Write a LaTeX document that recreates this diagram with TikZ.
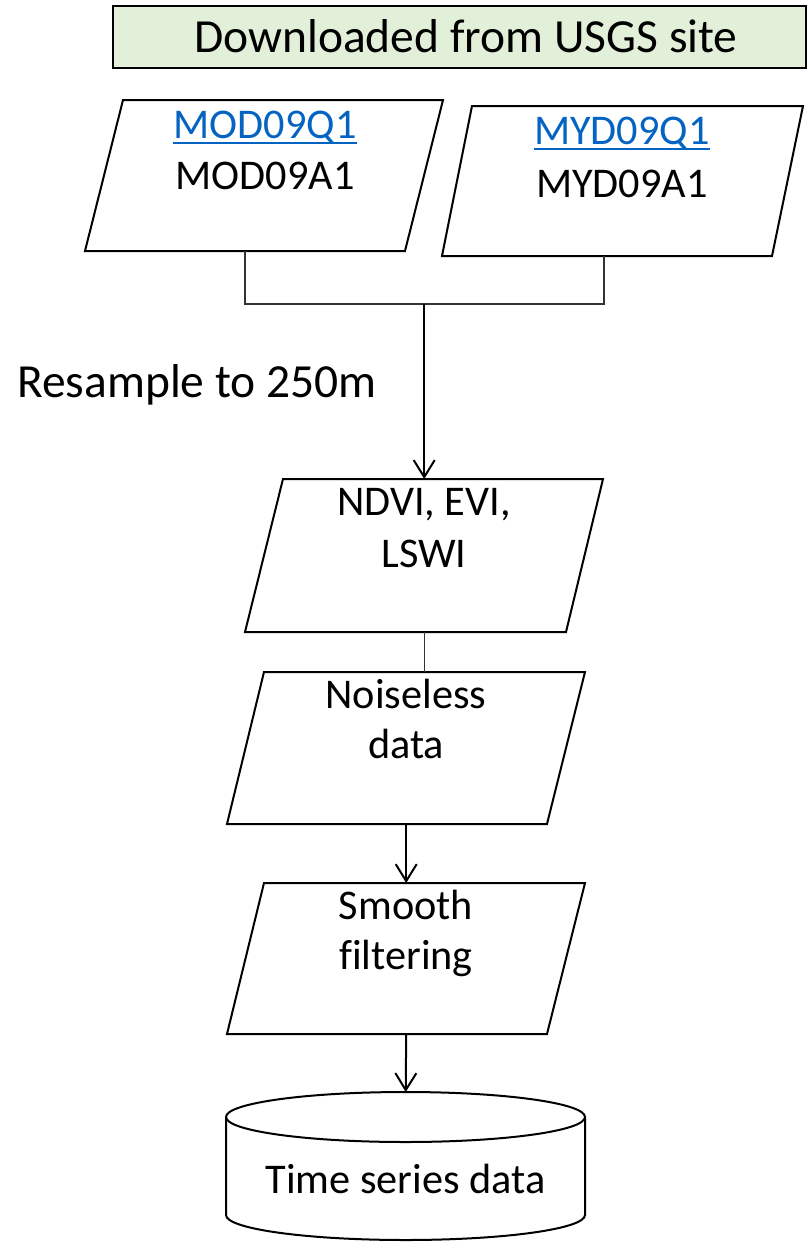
\documentclass[tikz,border=0pt]{standalone}
\usepackage{fontspec}
\setmainfont{Carlito}[Ligatures=NoCommon]
\usetikzlibrary{arrows.meta}
\definecolor{boxgreen}{HTML}{E2F0D9}
\definecolor{linkblue}{HTML}{0563C1}
\begin{document}
\begin{tikzpicture}[x=1pt,y=-1pt,
  shapeline/.style={line width=2pt, line join=miter},
  thinline/.style={line width=1.2pt, black!80},
  flowarrow/.style={line width=2pt, -{Straight Barb[length=17pt,width=21pt,line width=2pt]}},
  bigtxt/.style={font=\fontsize{47.5}{57}\selectfont, inner sep=0pt, anchor=base},
  txt/.style={font=\fontsize{42.3}{52}\selectfont, inner sep=0pt, anchor=base},
  hull/.style={inner sep=0pt, anchor=north west},
  linkline/.style={linkblue, line width=2.4pt},
]
\useasboundingbox (0,0) rectangle (808,1242);

% top box
\node[hull, draw, shapeline, fill=boxgreen, minimum width=693pt, minimum height=62pt] (usgs) at (112,5) {};
\node[bigtxt] (usgstxt) at (466,52) {Downloaded from USGS site};

% MOD parallelogram
\node[hull, minimum width=358pt, minimum height=151pt] (mod) at (85,100) {};
\draw[shapeline] (123,100) -- (443,100) -- (405,251) -- (85,251) -- cycle;
\coordinate (modb) at (245,251);
\node[txt, text=linkblue] (modq) at (265,138) {MOD09Q1};
\draw[linkline] ([yshift=-5pt]modq.base west) -- ([yshift=-5pt]modq.base east);
\node[txt] (moda) at (265,189) {MOD09A1};

% MYD parallelogram
\node[hull, minimum width=361pt, minimum height=150pt] (myd) at (442,106) {};
\draw[shapeline] (472,106) -- (803,106) -- (772,256) -- (442,256) -- cycle;
\coordinate (mydb) at (604,256);
\node[txt, text=linkblue] (mydq) at (622,144) {MYD09Q1};
\draw[linkline] ([yshift=-5pt]mydq.base west) -- ([yshift=-5pt]mydq.base east);
\node[txt] (myda) at (622,197) {MYD09A1};

% NDVI
\node[hull, minimum width=358pt, minimum height=153pt] (ndvi) at (245,479) {};
\draw[shapeline] (283,479) -- (603,479) -- (566,632) -- (245,632) -- cycle;
\node[txt] (ndvi1) at (424,515) {NDVI, EVI,};
\node[txt] (ndvi2) at (424,567) {LSWI};

% Noiseless
\node[hull, minimum width=358pt, minimum height=152pt] (noise) at (227,672) {};
\draw[shapeline] (264,672) -- (585,672) -- (547,824) -- (227,824) -- cycle;
\node[txt] (noise1) at (406,708) {Noiseless};
\node[txt] (noise2) at (406,758) {data};

% Smooth
\node[hull, minimum width=358pt, minimum height=151pt] (smooth) at (227,883) {};
\draw[shapeline] (264,883) -- (585,883) -- (547,1034) -- (227,1034) -- cycle;
\node[txt] (smooth1) at (406,919) {Smooth};
\node[txt] (smooth2) at (406,969) {filtering};

% cylinder
\node[hull, minimum width=359pt, minimum height=148pt] (cyl) at (226,1092) {};
\draw[shapeline] (226,1117) arc[start angle=180, end angle=-180, x radius=179.5pt, y radius=25pt];
\draw[shapeline] (226,1117) -- (226,1215) arc[start angle=180, end angle=360, x radius=179.5pt, y radius=25pt] -- (585,1117);
\node[txt] (cyltxt) at (405.5,1193) {Time series data};

% resample label
\node[bigtxt] (resample) at (197,397) {Resample to 250m};

% connectors
\coordinate (join) at (ndvi.north |- 0,304);
\draw[thinline] (modb) -- (modb |- join) -- (mydb |- join) -- (mydb);
\draw[flowarrow] (join) -- (ndvi.north);
\draw[thinline] (ndvi.south) -- (ndvi.south |- noise.north);
\draw[flowarrow] (noise.south) -- (smooth.north);
\draw[flowarrow] (smooth.south) -- (cyl.north);
\end{tikzpicture}
\end{document}
